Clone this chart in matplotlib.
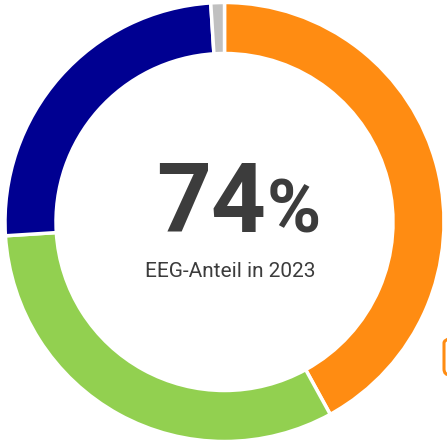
import matplotlib
matplotlib.use("Agg")
import matplotlib.pyplot as plt
from matplotlib.patches import FancyBboxPatch

# shares of the ring, clockwise from the top
labels = ["orange", "green", "blue", "gray"]
values = [42, 32, 25, 1]
colors = ["#FF8C12", "#92D050", "#000091", "#C0C0C0"]

big_value = "74"
big_unit = "%"
caption = "EEG-Anteil in 2023"

W, H = 447, 443
fig = plt.figure(figsize=(W / 100, H / 100), dpi=100)
ax = fig.add_axes([0, 0, 1, 1])
ax.set_xlim(0, W)
ax.set_ylim(0, H)
ax.axis("off")

cx, cy, r = 224.5, 221, 219.5
ax.pie(values, colors=colors, startangle=90, counterclock=False,
       center=(cx, cy), radius=r,
       wedgeprops=dict(width=51, edgecolor="white", linewidth=2.5))
ax.set_xlim(0, W)
ax.set_ylim(0, H)
ax.set_aspect("equal")

txt = "#3c3c3c"
ax.text(156, H - 232, big_value, fontsize=69, fontweight="bold", family="Roboto",
        color=txt, ha="left", va="baseline")
ax.text(267, H - 232, big_unit, fontsize=53, fontweight="bold", family="Roboto",
        color=txt, ha="left", va="baseline")
ax.text(230, H - 277, caption, fontsize=15, family="Roboto",
        color=txt, ha="center", va="baseline")

# cut-off button at the right edge
ax.add_patch(FancyBboxPatch((444, H - 375), 30, 38,
                            boxstyle="round,pad=0,rounding_size=6",
                            fill=False, edgecolor="#FF8C12", linewidth=2.2,
                            clip_on=False))

fig.savefig("out.png", dpi=100)
